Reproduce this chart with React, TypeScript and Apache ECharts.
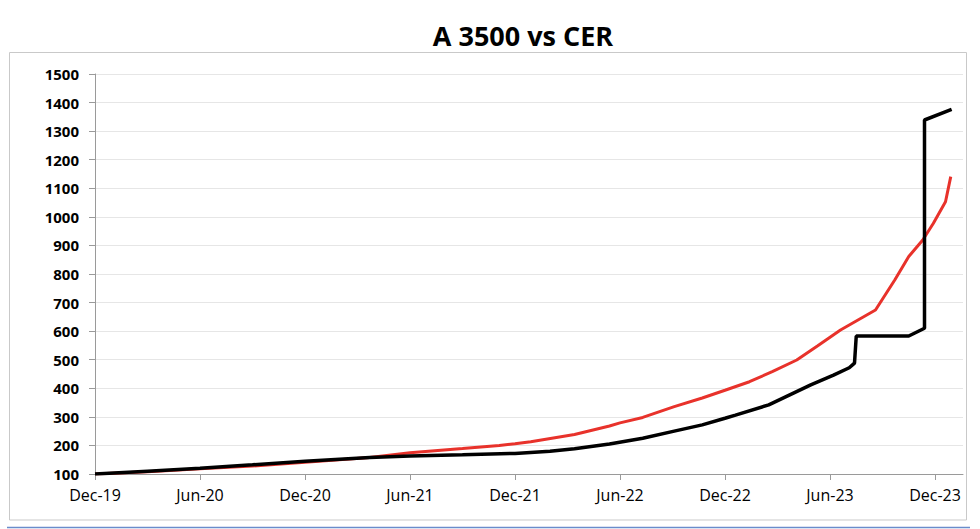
import React, { useEffect, useRef } from "react";
import * as echarts from "echarts";

// x = months since Dec-19
const xTickLabels = ["Dec-19", "Jun-20", "Dec-20", "Jun-21", "Dec-21", "Jun-22", "Dec-22", "Jun-23", "Dec-23"];
const xTickValues = [0, 6, 12, 18, 24, 30, 36, 42, 48];

const cerMonths = [0, 3, 6, 9, 12, 15.7, 18, 21, 23.1, 24, 24.9, 27.4, 29.4, 30, 31.3, 33.1, 34.7, 36, 37.4, 38.7, 40.1, 41.3, 42.6, 44.6, 45.7, 46.5, 47.3, 47.9, 48.6, 48.7, 48.9];
const cerValues = [100, 108, 118, 128, 141, 158, 174, 189, 200, 206, 213, 238, 268, 279, 298, 336, 366, 393, 423, 458, 499, 549, 604, 674, 779, 861, 919, 977, 1053, 1082, 1141];

const a3500Months = [0, 3, 6, 9, 12, 15.7, 18, 21, 24, 26, 27.4, 29.4, 31.3, 33.1, 34.7, 36, 36.6, 38.5, 39.7, 40.9, 42.2, 43.1, 43.4, 43.5, 46.5, 47.4, 47.4, 48.95];
const a3500Values = [100, 110, 120, 132, 145, 158, 163, 167, 172, 180, 188, 205, 225, 250, 272, 295, 306, 342, 377, 412, 446, 472, 488, 583, 583, 610, 1339, 1376];

export default function App() {
  const ref = useRef<HTMLDivElement>(null);
  useEffect(() => {
    if (!ref.current) return;
    const chart = echarts.init(ref.current, undefined, { renderer: "svg" });
    const cer = cerMonths.map((m, i) => [m, cerValues[i]]);
    const a3500 = a3500Months.map((m, i) => [m, a3500Values[i]]);
    chart.setOption({
      animation: false,
      backgroundColor: "#ffffff",
      title: {
        text: "A 3500 vs CER",
        left: 518,
        textAlign: "center",
        top: 17,
        textStyle: { fontFamily: "Open Sans", fontWeight: "bold", fontSize: 27, color: "#000" },
      },
      graphic: [
        {
          type: "rect",
          shape: { x: 9.5, y: 52.5, width: 957, height: 467.5 },
          style: { fill: "none", stroke: "#c9c9c9", lineWidth: 1 },
          silent: true,
          z: -1,
        },
        {
          type: "line",
          shape: { x1: 7, y1: 527.5, x2: 970, y2: 527.5 },
          style: { stroke: "#6a8ccb", lineWidth: 1.5 },
          silent: true,
        },
      ],
      grid: { left: 95, right: 17, top: 74, bottom: 55, containLabel: false },
      xAxis: {
        type: "value",
        min: 0,
        max: 49.6,
        interval: 6,
        splitLine: { show: false },
        axisLine: { show: true, lineStyle: { color: "#9a9a9a", width: 1 } },
        axisTick: { show: true, customValues: xTickValues, length: 6, lineStyle: { color: "#9a9a9a" } },
        axisLabel: {
          customValues: xTickValues,
          margin: 13,
          fontFamily: "Open Sans",
          fontSize: 16,
          color: "#000",
          formatter: (v: number) => {
            const i = xTickValues.indexOf(Math.round(v));
            return i >= 0 ? xTickLabels[i] : "";
          },
        },
      },
      yAxis: {
        type: "value",
        min: 100,
        max: 1500,
        interval: 100,
        splitLine: { show: true, lineStyle: { color: "#e6e6e6", width: 1 } },
        axisLine: { show: true, lineStyle: { color: "#9a9a9a", width: 1 } },
        axisTick: { show: true, length: 6, lineStyle: { color: "#9a9a9a" } },
        axisLabel: {
          margin: 16,
          fontFamily: "Open Sans",
          fontWeight: "bold",
          fontSize: 15,
          color: "#000",
          formatter: (v: number) => String(v),
        },
      },
      series: [
        {
          name: "CER",
          type: "line",
          data: cer,
          showSymbol: false,
          lineStyle: { color: "#e8322b", width: 3 },
          z: 2,
        },
        {
          name: "A 3500",
          type: "line",
          data: a3500,
          showSymbol: false,
          lineStyle: { color: "#000000", width: 3.5 },
          z: 3,
        },
      ],
    });
    return () => chart.dispose();
  }, []);
  return <div ref={ref} style={{ position: "fixed", left: 0, top: 0, width: 980, height: 529 }} />;
}
